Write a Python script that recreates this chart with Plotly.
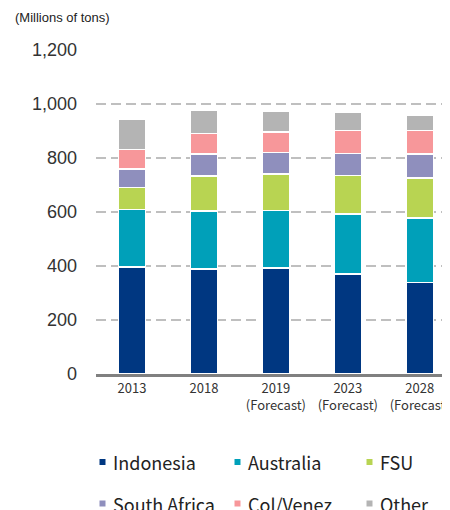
import plotly.graph_objects as go

# ── data (millions of tons) ────────────────────────────────────────────────
YEARS = ['2013', '2018', '2019<br>(Forecast)', '2023<br>(Forecast)', '2028<br>(Forecast)']
SERIES = ['Indonesia', 'Australia', 'FSU', 'South Africa', 'Col/Venez', 'Other']
INDONESIA    = [397, 388, 393, 370, 338]
AUSTRALIA    = [213, 216, 213, 223, 240]
FSU          = [80, 129, 134, 143, 148]
SOUTH_AFRICA = [70, 81, 81, 81, 89]
COL_VENEZ    = [71, 77, 76, 84, 87]
OTHER        = [112, 87, 77, 68, 58]
Y_TICKS = [0, 200, 400, 600, 800, 1000, 1200]

COLORS = ['#003781', '#00A0B9', '#B8D452', '#8F8FBD', '#F7979A', '#B4B4B4']
VALUES = [INDONESIA, AUSTRALIA, FSU, SOUTH_AFRICA, COL_VENEZ, OTHER]

TICK_FONT = 'Noto Sans CJK JP, Noto Sans, sans-serif'
ARIAL = 'Liberation Sans, Arial, sans-serif'

# page body has an 8px margin -> plot area placed to land at x 96..450, y 50..374
L, T, B, R = 88, 42, 144, 8
PLOT_W, PLOT_H = 450 - L - R, 510 - T - B

fig = go.Figure()
for name, vals, col in zip(SERIES, VALUES, COLORS):
    fig.add_trace(go.Bar(
        x=YEARS, y=vals, name=name,
        marker=dict(color=col, line=dict(color='white', width=1.5)),
        width=0.38, showlegend=False,
    ))

# ── legend drawn by hand: 3 columns x 2 rows, small squares ───────────────
def px_x(px):  # page pixel -> paper x
    return (px - 8 - L) / PLOT_W

def px_y(px):  # page pixel -> paper y
    return (510 - B - (px - 8)) / PLOT_H

COL_MARK = [102.5, 237.5, 369.5]
ROW_Y = [462, 503.5]
shapes, annots = [], []
for i, (name, col) in enumerate(zip(SERIES, COLORS)):
    r, c = divmod(i, 3)
    shapes.append(dict(
        type='rect', xref='paper', yref='paper',
        xsizemode='pixel', ysizemode='pixel',
        xanchor=px_x(COL_MARK[c]), yanchor=px_y(ROW_Y[r]),
        x0=-3, x1=3, y0=-3, y1=3,
        fillcolor=col, line=dict(width=0),
    ))
    annots.append(dict(
        text=name, xref='paper', yref='paper',
        x=px_x(COL_MARK[c] + 8), y=px_y(ROW_Y[r]),
        xanchor='left', yanchor='middle', showarrow=False,
        font=dict(family=TICK_FONT, size=18, color='#222222'),
    ))

annots.append(dict(
    text='(Millions of tons)', xref='paper', yref='paper',
    x=px_x(13), y=px_y(17), xanchor='left', yanchor='middle', showarrow=False,
    font=dict(family=ARIAL, size=13, color='#222222'),
))

fig.update_layout(
    width=450, height=510,
    margin=dict(l=L, r=R, t=T, b=B, autoexpand=False),
    barmode='stack',
    showlegend=False,
    plot_bgcolor='white', paper_bgcolor='white',
    xaxis=dict(
        type='category', range=[-0.5, 4.42],
        showline=True, linecolor='#808080', linewidth=3,
        showgrid=False, ticks='',
        tickfont=dict(family=TICK_FONT, size=13, color='#333333'),
    ),
    yaxis=dict(
        range=[0, 1200], tickvals=Y_TICKS, tickformat=',d',
        showgrid=True, gridcolor='#BFBFBF', gridwidth=2, griddash='10px,5px',
        zeroline=False, ticks='', ticklabelstandoff=18,
        tickfont=dict(family=ARIAL, size=18, color='#333333'),
    ),
    shapes=shapes,
    annotations=annots,
)

fig.write_html('out.html')
